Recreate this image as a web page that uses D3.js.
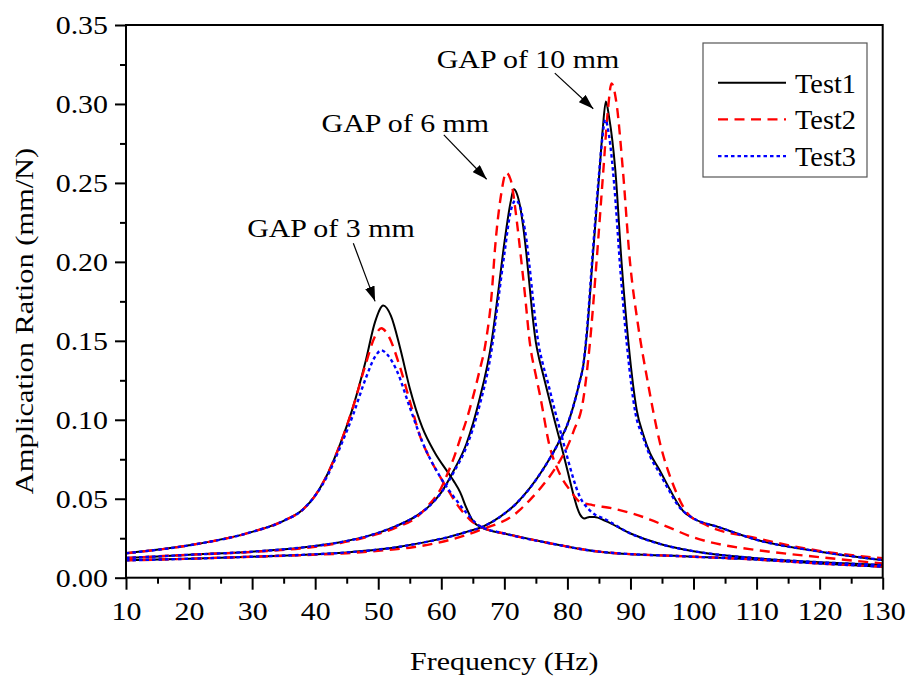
<!DOCTYPE html>
<html>
<head>
<meta charset="utf-8">
<script src="https://cdn.jsdelivr.net/npm/d3@7"></script>
<style>
  body { margin: 0; background: #fff; }
  svg { display: block; }
</style>
</head>
<body>
<svg id="chart" width="909" height="680"></svg>
<script>
// frequency (Hz) / amplitude ratio (mm/N)
let f1_3 = [10, 20, 30, 35, 38, 40, 42, 44, 46, 48, 49.5, 50.8, 52, 53.5, 55, 57, 59, 61, 62, 63, 64, 65, 66.5, 70, 77, 85, 100, 110, 120, 130];
let v1_3 = [0.0155, 0.0205, 0.029, 0.036, 0.043, 0.052, 0.066, 0.085, 0.108, 0.137, 0.162, 0.1723, 0.166, 0.145, 0.12, 0.095, 0.079, 0.067, 0.061, 0.054, 0.044, 0.036, 0.0315, 0.028, 0.022, 0.0165, 0.0133, 0.0115, 0.009, 0.007];
let f2_3 = [10, 20, 30, 35, 38, 40, 42, 44, 46, 48, 49.5, 50.5, 51.5, 53.4, 55, 56.6, 58, 59.8, 61, 62.4, 64.6, 67, 70, 77, 85, 100, 110, 120, 130];
let v2_3 = [0.0155, 0.0205, 0.029, 0.036, 0.043, 0.052, 0.066, 0.085, 0.108, 0.135, 0.153, 0.158, 0.154, 0.134, 0.112, 0.09, 0.077, 0.064, 0.056, 0.047, 0.0365, 0.031, 0.028, 0.022, 0.0165, 0.0133, 0.0115, 0.009, 0.007];
let f3_3 = [10, 20, 30, 35, 38, 40, 42, 44, 46, 48, 49.5, 50.5, 51.5, 52.9, 55, 57.1, 59.8, 62.4, 64, 66, 70, 77, 85, 100, 110, 120, 130];
let v3_3 = [0.0155, 0.0205, 0.029, 0.036, 0.043, 0.052, 0.065, 0.083, 0.103, 0.126, 0.14, 0.144, 0.141, 0.1315, 0.108, 0.085, 0.064, 0.049, 0.041, 0.033, 0.028, 0.022, 0.0165, 0.0133, 0.0115, 0.009, 0.007];

let f1_6 = [10, 20, 30, 37.6, 44, 48, 53, 56, 58, 60, 62, 64, 66, 68, 69, 70, 71, 71.5, 72, 72.5, 73, 73.5, 74, 74.5, 75, 75.5, 76, 77, 78, 79, 80, 81, 81.5, 82, 82.7, 83.5, 84.3, 86, 90, 95, 100, 110, 120, 130];
let v1_6 = [0.0125, 0.0145, 0.0165, 0.019, 0.0225, 0.026, 0.033, 0.039, 0.045, 0.054, 0.068, 0.085, 0.112, 0.150, 0.18, 0.212, 0.238, 0.246, 0.243, 0.235, 0.222, 0.205, 0.185, 0.165, 0.149, 0.139, 0.131, 0.115, 0.099, 0.084, 0.068, 0.052, 0.045, 0.040, 0.0375, 0.0385, 0.0385, 0.036, 0.028, 0.021, 0.0168, 0.0123, 0.0098, 0.008];
let f2_6 = [10, 20, 30, 37.6, 44, 48, 53, 56, 58, 60, 61, 62, 63, 64, 65, 66, 67, 68, 68.5, 69.5, 70.3, 71, 72, 72.5, 73.3, 74, 75, 75.7, 77.2, 78.3, 79, 80.4, 82, 84, 87, 90, 93, 96, 100, 105, 110, 120, 130];
let v2_6 = [0.0125, 0.0145, 0.0163, 0.0185, 0.022, 0.0255, 0.032, 0.038, 0.046, 0.057, 0.066, 0.076, 0.088, 0.1, 0.114, 0.13, 0.148, 0.18, 0.2075, 0.243, 0.2565, 0.252, 0.225, 0.2075, 0.178, 0.15, 0.128, 0.1146, 0.083, 0.07, 0.064, 0.0555, 0.048, 0.046, 0.044, 0.041, 0.037, 0.032, 0.0255, 0.0205, 0.0175, 0.013, 0.009];
let f3_6 = [10, 20, 30, 37.6, 44, 48, 53, 56, 58, 60, 62, 64, 66, 68, 69, 70, 71, 71.8, 72.5, 73, 73.5, 74, 74.5, 75, 75.5, 76, 77, 78, 79, 80, 81, 82, 83, 84, 86, 90, 95, 100, 110, 120, 130];
let v3_6 = [0.0125, 0.0145, 0.0165, 0.019, 0.0225, 0.026, 0.033, 0.039, 0.045, 0.054, 0.067, 0.083, 0.108, 0.145, 0.175, 0.205, 0.232, 0.239, 0.235, 0.226, 0.214, 0.197, 0.178, 0.16, 0.146, 0.137, 0.122, 0.106, 0.091, 0.076, 0.062, 0.051, 0.045, 0.041, 0.037, 0.028, 0.021, 0.0168, 0.0123, 0.0098, 0.008];

let f1_10 = [10, 20, 30, 37.6, 45, 50, 53.4, 58, 61.4, 64, 66.6, 69.3, 71.9, 74, 76.2, 78.8, 80, 80.9, 82, 82.5, 83.1, 84, 85.1, 85.6, 86.1, 86.6, 87.6, 88.6, 89.7, 91, 92, 93.1, 94.5, 96.3, 97.5, 98.4, 100, 104, 110, 120, 130];
let v1_10 = [0.011, 0.012, 0.0133, 0.0144, 0.016, 0.0178, 0.0196, 0.023, 0.026, 0.029, 0.0323, 0.0385, 0.047, 0.0565, 0.069, 0.087, 0.097, 0.108, 0.125, 0.134, 0.155, 0.202, 0.258, 0.284, 0.3015, 0.292, 0.258, 0.199, 0.148, 0.106, 0.091, 0.0788, 0.069, 0.0555, 0.047, 0.042, 0.0375, 0.032, 0.024, 0.0165, 0.0112];
let f2_10 = [10, 20, 30, 37.6, 45, 50, 55, 61.4, 66, 71.9, 74, 76, 78.8, 80, 81, 82.5, 83.6, 84.6, 85.7, 86.4, 87, 87.8, 88.8, 89.9, 91.2, 92.6, 94.7, 96.9, 99, 102, 110, 120, 130];
let v2_10 = [0.011, 0.012, 0.0133, 0.0142, 0.0155, 0.017, 0.019, 0.024, 0.03, 0.041, 0.049, 0.058, 0.074, 0.083, 0.093, 0.1125, 0.15, 0.199, 0.258, 0.295, 0.313, 0.3, 0.258, 0.201, 0.16, 0.127, 0.085, 0.0576, 0.041, 0.0334, 0.025, 0.017, 0.0123];
let f3_10 = [10, 20, 30, 37.6, 45, 50, 53.4, 58, 61.4, 64, 66.6, 69.3, 71.9, 74, 76.2, 78.8, 80, 80.9, 82, 82.5, 83.1, 84, 85, 85.5, 86, 86.6, 87.4, 88.4, 89.5, 90.8, 92, 93.1, 94.5, 96.3, 97.5, 98.4, 100, 104, 110, 120, 130];
let v3_10 = [0.011, 0.012, 0.0133, 0.0144, 0.016, 0.0178, 0.0196, 0.023, 0.026, 0.029, 0.0323, 0.0385, 0.047, 0.0565, 0.069, 0.087, 0.097, 0.108, 0.125, 0.134, 0.157, 0.205, 0.255, 0.277, 0.29, 0.28, 0.25, 0.195, 0.145, 0.104, 0.089, 0.077, 0.067, 0.054, 0.046, 0.042, 0.0375, 0.032, 0.024, 0.0165, 0.0112];

let testNames = ["Test1", "Test2", "Test3"];
let testColors = ["#000000", "#ff0000", "#0000ff"];
let testDash = [null, "10,6.5", "3.5,3"];
let xTicks = [10, 20, 30, 40, 50, 60, 70, 80, 90, 100, 110, 120, 130];
let yTicks = [0, 0.05, 0.10, 0.15, 0.20, 0.25, 0.30, 0.35];

let curves = [
  {test: 0, f: f1_3, v: v1_3}, {test: 0, f: f1_6, v: v1_6}, {test: 0, f: f1_10, v: v1_10},
  {test: 1, f: f2_3, v: v2_3}, {test: 1, f: f2_6, v: v2_6}, {test: 1, f: f2_10, v: v2_10},
  {test: 2, f: f3_3, v: v3_3}, {test: 2, f: f3_6, v: v3_6}, {test: 2, f: f3_10, v: v3_10}
];

// labels with their arrows (text at [f, v], arrow from -> to)
let notes = [
  {text: "GAP of 3 mm", at: [42.5, 0.2158], from: [46.05, 0.2118], to: [49.5, 0.175]},
  {text: "GAP of 6 mm", at: [54.3, 0.2825], from: [60.4, 0.2804], to: [67.2, 0.2523]},
  {text: "GAP of 10 mm", at: [73.75, 0.3228], from: [78.0, 0.3195], to: [84.1, 0.297]}
];

const FONT = "'Liberation Serif', 'Times New Roman', serif";
let svg = d3.select("#chart");
let pLeft = 126, pRight = 882.7, pTop = 25, pBottom = 577.7;

let x = d3.scaleLinear().domain([10, 130]).range([pLeft, pRight]);
let y = d3.scaleLinear().domain([0, 0.35]).range([pBottom, pTop]);

// stretch text a bit wider, like the figure
function widen(sel, k) {
  sel.each(function() {
    let w = this.getComputedTextLength();
    d3.select(this).attr("textLength", w * k).attr("lengthAdjust", "spacingAndGlyphs");
  });
}

let defs = svg.append("defs");
defs.append("clipPath").attr("id", "plotclip")
  .append("rect").attr("x", pLeft).attr("y", pTop).attr("width", pRight - pLeft).attr("height", pBottom - pTop);
defs.append("marker").attr("id", "arrowhead")
  .attr("viewBox", "0 0 15 10").attr("refX", 15).attr("refY", 5)
  .attr("markerWidth", 15).attr("markerHeight", 10).attr("markerUnits", "userSpaceOnUse")
  .attr("orient", "auto")
  .append("path").attr("d", "M0,0 L15,5 L0,10 Z").attr("fill", "#000");

// minor ticks
let xMinor = d3.axisBottom(x).tickValues(d3.range(15, 130, 10)).tickSize(6).tickFormat("");
let yMinor = d3.axisLeft(y).tickValues(d3.range(0.025, 0.35, 0.05)).tickSize(6).tickFormat("");
svg.append("g").attr("transform", `translate(0,${pBottom})`).call(xMinor).call(g => g.select(".domain").remove());
svg.append("g").attr("transform", `translate(${pLeft},0)`).call(yMinor).call(g => g.select(".domain").remove());

let xAxis = d3.axisBottom(x).tickValues(xTicks).tickSize(12).tickPadding(12).tickSizeOuter(0);
let yAxis = d3.axisLeft(y).tickValues(yTicks).tickSize(11).tickPadding(7).tickSizeOuter(0).tickFormat(d3.format(".2f"));

let gx = svg.append("g").attr("transform", `translate(0,${pBottom})`).call(xAxis);
let gy = svg.append("g").attr("transform", `translate(${pLeft},0)`).call(yAxis);
[gx, gy].forEach(g => {
  g.attr("font-family", FONT).attr("font-size", 26);
  g.selectAll(".domain").remove();
  g.selectAll("text").attr("fill", "#000");
  widen(g.selectAll("text"), 1.15);
});
svg.selectAll(".tick line").attr("stroke", "#000").attr("stroke-width", 2);

// curves
let line = d3.line().x(d => x(d[0])).y(d => y(d[1])).curve(d3.curveMonotoneX);
let plot = svg.append("g").attr("clip-path", "url(#plotclip)");
plot.selectAll("path.curve")
  .data(curves)
  .join("path")
  .attr("class", "curve")
  .attr("d", c => line(c.f.map((f, i) => [f, c.v[i]])))
  .attr("fill", "none")
  .attr("stroke", c => testColors[c.test])
  .attr("stroke-width", c => c.test == 0 ? 2 : 2.4)
  .attr("stroke-dasharray", c => testDash[c.test]);

// frame
svg.append("rect").attr("x", pLeft).attr("y", pTop)
  .attr("width", pRight - pLeft).attr("height", pBottom - pTop)
  .attr("fill", "none").attr("stroke", "#000").attr("stroke-width", 2);

// annotations
notes.forEach(n => {
  let t = svg.append("text").attr("x", x(n.at[0])).attr("y", y(n.at[1]))
    .attr("text-anchor", "middle").attr("font-family", FONT).attr("font-size", 26)
    .text(n.text);
  widen(t, 1.15);
  svg.append("line")
    .attr("x1", x(n.from[0])).attr("y1", y(n.from[1]))
    .attr("x2", x(n.to[0])).attr("y2", y(n.to[1]))
    .attr("stroke", "#000").attr("stroke-width", 1.2)
    .attr("marker-end", "url(#arrowhead)");
});

// axis titles
let xt = svg.append("text").attr("x", (pLeft + pRight) / 2).attr("y", 670)
  .attr("text-anchor", "middle").attr("font-family", FONT).attr("font-size", 26)
  .text("Frequency (Hz)");
widen(xt, 1.15);
let yt = svg.append("text").attr("transform", `translate(33,321) rotate(-90)`)
  .attr("text-anchor", "middle").attr("font-family", FONT).attr("font-size", 26)
  .text("Amplication Ration (mm/N)");
widen(yt, 1.17);

// legend
let legend = svg.append("g");
legend.append("rect").attr("x", 703).attr("y", 43).attr("width", 164).attr("height", 134)
  .attr("fill", "#fff").attr("stroke", "#555").attr("stroke-width", 1.2);
testNames.forEach((name, i) => {
  let ly = 82.7 + i * 36.7;
  legend.append("line").attr("x1", 718).attr("x2", 786).attr("y1", ly).attr("y2", ly)
    .attr("stroke", testColors[i]).attr("stroke-width", i == 0 ? 2 : 2.4)
    .attr("stroke-dasharray", testDash[i]);
  let t = legend.append("text").attr("x", 795).attr("y", ly + 10)
    .attr("font-family", FONT).attr("font-size", 27).text(name);
  widen(t, 1.05);
});
</script>
</body>
</html>
